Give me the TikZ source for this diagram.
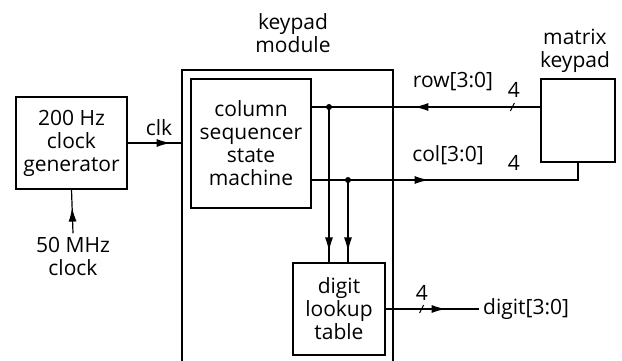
\documentclass[tikz,border=0pt]{standalone}
\usepackage{fontspec}
\setmainfont{Open Sans}
\usetikzlibrary{arrows.meta,decorations.markings}

\begin{document}
\begin{tikzpicture}[x=1pt, y=-1pt,
    every node/.style={font=\fontsize{21}{23}\selectfont, align=center},
    block/.style={draw, line width=1.2pt, inner sep=0pt},
    wire/.style={line width=1.2pt},
    arrowat/.style={postaction={decorate, decoration={markings,
        mark=at position #1 with {\arrow{Latex[length=14pt,width=8pt]}}}}},
    busat/.style={postaction={decorate, decoration={markings,
        mark=at position #1 with {\draw[line width=1pt] (-2pt,-4pt) -- (2pt,4pt);}}}},
    dot/.style={circle, fill, inner sep=0pt, minimum size=6pt}]

    \useasboundingbox (0,0) rectangle (622,360);

    % Blocks
    \node[block, minimum width=111pt, minimum height=92pt] (clkgen) at (71.5,143) {200 Hz\\clock\\generator};
    \node[block, minimum width=211pt, minimum height=310pt] (module) at (287.5,225) {};
    \node[block, minimum width=120pt, minimum height=129pt] (seq) at (251,143.5) {column\\sequencer\\state\\machine};
    \node[block, minimum width=74pt, minimum height=83pt] (keypad) at (578,120.5) {};
    \node[block, minimum width=92pt, minimum height=92pt] (lookup) at (339,309) {digit\\lookup\\table};

    % Labels
    \node (modulelabel) at (293,33.5) {keypad\\module};
    \node (keypadlabel) at (575,51) {matrix\\keypad};
    \node (osc) at (73,256) {50 MHz\\clock};
    \node (clklabel) at (159,128) {clk};
    \node (rowlabel) at (453,82) {row[3:0]};
    \node (collabel) at (448,155) {col[3:0]};
    \node (rowwidth) at (514,90) {4};
    \node (colwidth) at (514,163) {4};
    \node (digitwidth) at (422,293) {4};
    \node[anchor=west, inner sep=4pt] (digitout) at (479,309) {digit[3:0]};

    % Junctions
    \node[dot] (rowdot) at (329,107) {};
    \node[dot] (coldot) at (348,180) {};

    % Wires
    \draw[wire, arrowat=-18pt] (osc.north) -- (clkgen.south);
    \draw[wire, arrowat=43pt] (clkgen.east) -- (clkgen.east -| module.west);
    \draw[wire, arrowat=126pt, busat=28pt] (keypad.west |- rowdot) -- (seq.east |- rowdot);
    \draw[wire, arrowat=117pt] (seq.east |- coldot) -- (keypad.south |- coldot) -- (keypad.south);
    \draw[wire, arrowat=-11pt] (rowdot.center) -- (rowdot |- lookup.north);
    \draw[wire, arrowat=-11pt] (coldot.center) -- (coldot |- lookup.north);
    \draw[wire, arrowat=60pt, busat=36pt] (lookup.east) -- (digitout.west);

\end{tikzpicture}
\end{document}
